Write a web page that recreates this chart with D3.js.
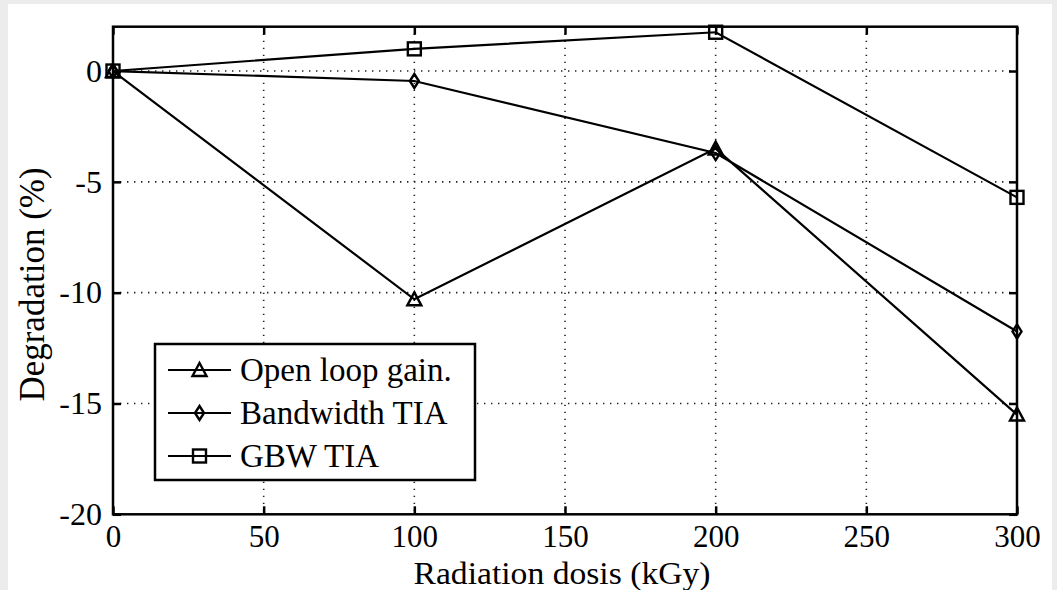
<!DOCTYPE html>
<html><head><meta charset="utf-8">
<script src="https://cdn.jsdelivr.net/npm/d3@7"></script>
<style>body{margin:0;background:#ececec;} svg{display:block;}</style>
</head><body><svg id="c" width="1057" height="590"></svg>
<script>
const doses = [0, 100, 200, 300];
const openLoopGain = [0, -10.3, -3.5, -15.5];
const bandwidthTIA = [0, -0.45, -3.7, -11.75];
const gbwTIA = [0, 1.0, 1.75, -5.7];
const seriesNames = ["Open loop gain.", "Bandwidth TIA", "GBW TIA"];
const markerTypes = ["triangle", "diamond", "square"];
const xTicks = [0, 50, 100, 150, 200, 250, 300];
const yTicks = [-20, -15, -10, -5, 0];

const svg = d3.select("#c");
const font = "'Liberation Serif','Times New Roman',serif";
svg.append("rect").attr("x",0).attr("y",0).attr("width",1057).attr("height",590).attr("fill","#ececec");
svg.append("rect").attr("x",8).attr("y",4).attr("width",1044).attr("height",586).attr("fill","#fff");

const L=113, R=1017, T=26.7, B=514.3;
const x = d3.scaleLinear().domain([0,300]).range([L,R]);
const y = d3.scaleLinear().domain([-20,2]).range([B,T]);

// grid
const g = svg.append("g");
g.selectAll(".vg").data(xTicks.filter(d=>d>0&&d<300)).enter().append("line")
  .attr("x1",d=>x(d)).attr("x2",d=>x(d)).attr("y1",T).attr("y2",B)
  .attr("stroke","#222").attr("stroke-width",1.6).attr("stroke-dasharray","1.4,5.6");
g.selectAll(".hg").data(yTicks.filter(d=>d>-20)).enter().append("line")
  .attr("y1",d=>y(d)).attr("y2",d=>y(d)).attr("x1",L).attr("x2",R)
  .attr("stroke","#222").attr("stroke-width",1.6).attr("stroke-dasharray","1.4,5.6");

// axes
const xAxis = d3.axisBottom(x).tickValues(xTicks).tickSize(-8).tickPadding(11).tickFormat(d3.format("d"));
const xa = svg.append("g").attr("transform",`translate(0,${B})`).call(xAxis);
const xTop = svg.append("g").attr("transform",`translate(0,${T})`).call(d3.axisTop(x).tickValues(xTicks).tickSize(-8).tickFormat(""));
const yAxis = d3.axisLeft(y).tickValues(yTicks).tickSize(-8).tickPadding(11).tickFormat(d=>d===0?"0":String(d));
const ya = svg.append("g").attr("transform",`translate(${L},0)`).call(yAxis);
const yRight = svg.append("g").attr("transform",`translate(${R},0)`).call(d3.axisRight(y).tickValues(yTicks).tickSize(-8).tickFormat(""));
[xa,xTop,ya,yRight].forEach(a=>{
  a.select(".domain").remove();
  a.selectAll(".tick line").attr("stroke","#000").attr("stroke-width",2.5);
  a.selectAll(".tick text").attr("font-family",font).attr("font-size",32).attr("fill","#000");
});
xa.selectAll(".tick text").attr("font-size",31).attr("dy","0.71em");
svg.append("rect").attr("x",L).attr("y",T).attr("width",R-L).attr("height",B-T)
  .attr("fill","none").attr("stroke","#000").attr("stroke-width",2.5);

// labels
svg.append("text").attr("x",(L+R)/2-3).attr("y",583.5).attr("text-anchor","middle")
  .attr("font-family",font).attr("font-size",31)
  .attr("textLength",297).attr("lengthAdjust","spacingAndGlyphs").text("Radiation dosis (kGy)");
svg.append("text").attr("transform",`translate(44,${(T+B)/2+14}) rotate(-90)`).attr("text-anchor","middle")
  .attr("font-family",font).attr("font-size",35).text("Degradation (%)");

// marker drawer
function marker(sel, type, cx, cy){
  if(type==="triangle"){
    sel.append("path").attr("d",`M${cx},${cy-7}L${cx+7},${cy+6}L${cx-7},${cy+6}Z`)
      .attr("fill","none").attr("stroke","#000").attr("stroke-width",2.4);
  } else if(type==="diamond"){
    sel.append("path").attr("d",`M${cx},${cy-7}L${cx+4.5},${cy}L${cx},${cy+7}L${cx-4.5},${cy}Z`)
      .attr("fill","none").attr("stroke","#000").attr("stroke-width",2.4);
  } else {
    sel.append("rect").attr("x",cx-6.5).attr("y",cy-6.5).attr("width",13).attr("height",13)
      .attr("fill","none").attr("stroke","#000").attr("stroke-width",2.4);
  }
}

const allSeries = [openLoopGain, bandwidthTIA, gbwTIA];
const line = d3.line().x((d,i)=>x(doses[i])).y(d=>y(d));
allSeries.forEach((s,k)=>{
  const sg = svg.append("g");
  sg.append("path").attr("d",line(s)).attr("fill","none").attr("stroke","#000").attr("stroke-width",2.2);
  s.forEach((v,i)=>marker(sg, markerTypes[k], x(doses[i]), y(v)));
});

// legend
const lg = svg.append("g");
lg.append("rect").attr("x",155).attr("y",344).attr("width",320).attr("height",136)
  .attr("fill","#fff").attr("stroke","#000").attr("stroke-width",2.5);
const rowsY = [370, 413, 456];
seriesNames.forEach((n,k)=>{
  lg.append("line").attr("x1",168).attr("x2",231).attr("y1",rowsY[k]).attr("y2",rowsY[k])
    .attr("stroke","#000").attr("stroke-width",2.2);
  marker(lg, markerTypes[k], 199.5, rowsY[k]);
  lg.append("text").attr("x",240).attr("y",rowsY[k]+11).attr("font-family",font).attr("font-size",33).text(n);
});
</script></body></html>
